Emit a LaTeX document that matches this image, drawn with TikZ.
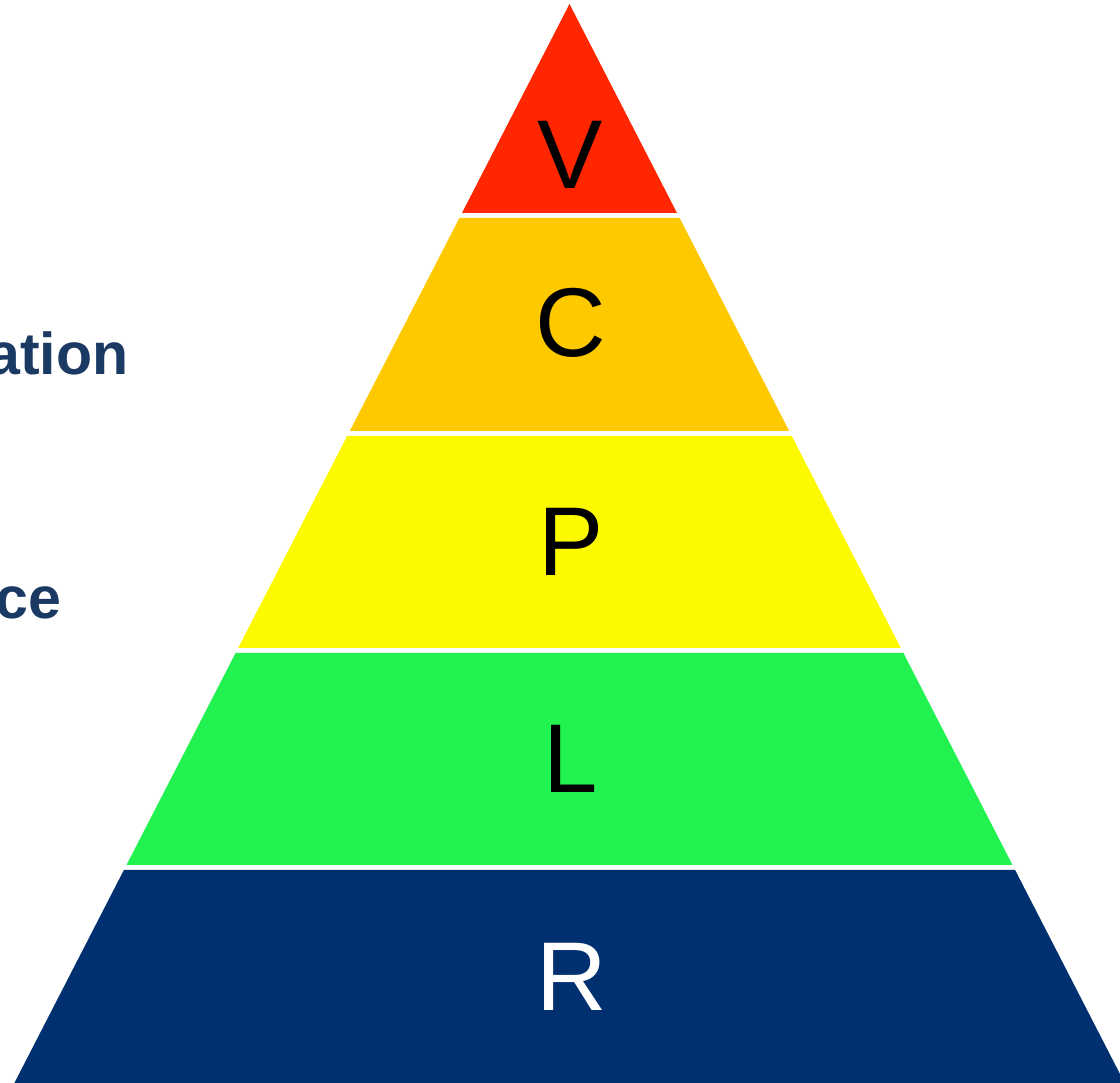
\documentclass[tikz,border=0pt]{standalone}
\usepackage{fontspec}
\setmainfont{Liberation Sans}
\definecolor{vred}{HTML}{FF2600}
\definecolor{corange}{HTML}{FFC900}
\definecolor{pyellow}{HTML}{FDFA00}
\definecolor{lgreen}{HTML}{22F250}
\definecolor{rnavy}{HTML}{00306F}
\definecolor{sidetext}{HTML}{1B3A63}
\begin{document}
\begin{tikzpicture}[x=0.01cm,y=-0.01cm]
	\tikzstyle{band}=[draw=none];
	\tikzstyle{letter}=[inner sep=0pt,font=\fontsize{27.8}{31}\selectfont];
	\tikzstyle{side}=[inner sep=0pt,anchor=base east,text=sidetext,font=\fontsize{16.8}{20}\selectfont\bfseries];
	\useasboundingbox (0,0) rectangle (1120,1083);

	\fill[band,vred]    (569.5,4)  -- (677,213)    -- (462,213)    -- cycle;
	\fill[band,corange] (459.4,218) -- (679.6,218) -- (789.2,431)  -- (349.8,431) -- cycle;
	\fill[band,pyellow] (347.2,436) -- (791.8,436) -- (900.8,648)  -- (238.2,648) -- cycle;
	\fill[band,lgreen]  (235.6,653) -- (903.4,653) -- (1012.5,865) -- (126.5,865) -- cycle;
	\fill[band,rnavy]   (123.9,870) -- (1015.1,870) -- (1124.6,1083) -- (14.4,1083) -- cycle;

	\node[letter] (v) at (570,155) {V};
	\node[letter] (c) at (571,323) {C};
	\node[letter] (p) at (571,542) {P};
	\node[letter] (l) at (571,759) {L};
	\node[letter,white] (r) at (572,977) {R};

	\node[side] (ation) at (129,375) {ation};
	\node[side] (ce) at (62,619) {ce};
\end{tikzpicture}
\end{document}
